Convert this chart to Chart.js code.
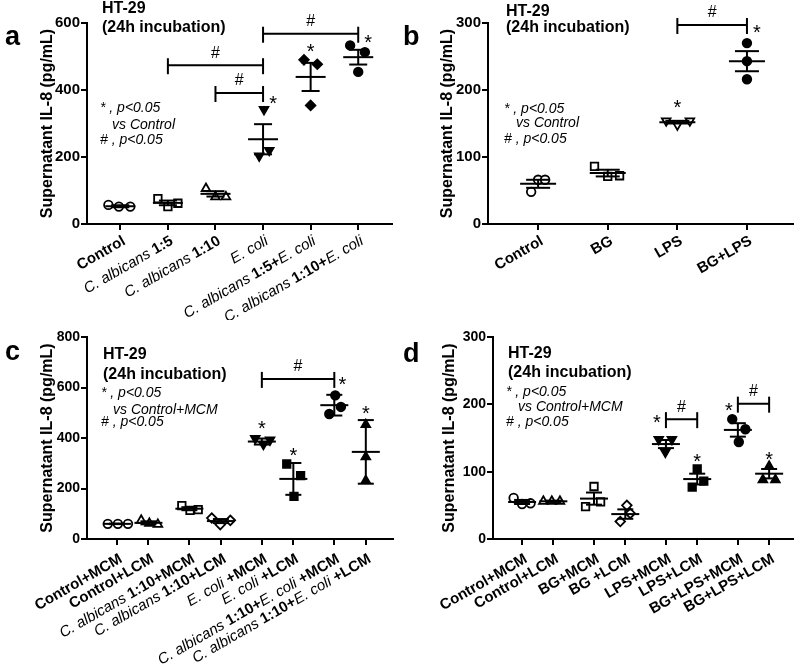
<!DOCTYPE html>
<html>
<head>
<meta charset="utf-8">
<script src="https://cdn.jsdelivr.net/npm/chart.js@4.4.1/dist/chart.umd.min.js"></script>
<style>
  body { margin: 0; background: #fff; width: 800px; height: 667px; position: relative; overflow: hidden; }
  .panel { position: absolute; }
</style>
</head>
<body>
<div class="panel" style="left:0;top:0"><canvas id="chartA" width="400" height="320"></canvas></div>
<div class="panel" style="left:400px;top:0"><canvas id="chartB" width="400" height="320"></canvas></div>
<div class="panel" style="left:0;top:320px"><canvas id="chartC" width="400" height="347"></canvas></div>
<div class="panel" style="left:400px;top:320px"><canvas id="chartD" width="400" height="347"></canvas></div>
<script>
// ---- panel a ----
var labelsA = [
  [["Control", "b"]],
  [["C. albicans ", "i"], ["1:5", "b"]],
  [["C. albicans ", "i"], ["1:10", "b"]],
  [["E. coli", "i"]],
  [["C. albicans ", "i"], ["1:5+", "b"], ["E. coli", "i"]],
  [["C. albicans ", "i"], ["1:10+", "b"], ["E. coli", "i"]]
];
var valuesA = [[57, 52, 52], [76, 52, 62], [106, 81, 81], [342, 220, 203], [490, 477, 354], [533, 513, 454]];
var spreadA = [[-0.25, -0.03, 0.21], [-0.21, 0, 0.21], [-0.2, 0, 0.22], [0.02, 0.13, -0.08], [-0.14, 0.14, 0], [-0.17, 0.14, 0]];
var meansA = [53, 63, 90, 253, 439, 498];
var errsA = [3, 7, 8, 45, 42, 22];
var bracketsA = [[2, 3, 391], [1, 3, 474], [3, 5, 568]];
var starsA = [[3, 374, 10], [4, 530, 0], [5, 558, 10]];

// ---- panel b ----
var labelsB = [[["Control", "b"]], [["BG", "b"]], [["LPS", "b"]], [["BG+LPS", "b"]]];
var valuesB = [[48, 66, 66], [86, 71, 72], [154, 148, 154], [270, 243, 216]];
var spreadB = [[-0.1, 0, 0.1], [-0.19, 0, 0.17], [-0.16, 0, 0.18], [0, 0, 0]];
var meansB = [60, 76, 152, 243];
var errsB = [6, 5, 2, 15];
var bracketsB = [[2, 3, 297]];
var starsB = [[2, 182, 0], [3, 294, 10]];

// ---- panel c ----
var labelsC = [
  [["Control+MCM", "b"]],
  [["Control+LCM", "b"]],
  [["C. albicans ", "i"], ["1:10+MCM", "b"]],
  [["C. albicans ", "i"], ["1:10+LCM", "b"]],
  [["E. coli", "i"], [" +MCM", "b"]],
  [["E. coli", "i"], [" +LCM", "b"]],
  [["C. albicans ", "i"], ["1:10+", "b"], ["E. coli", "i"], [" +MCM", "b"]],
  [["C. albicans ", "i"], ["1:10+", "b"], ["E. coli", "i"], [" +LCM", "b"]]
];
var valuesC = [[60, 60, 60], [74, 62, 58], [132, 113, 116], [83, 57, 74], [398, 375, 392], [297, 251, 169], [569, 523, 495], [453, 325, 231]];
var spreadC = [[-0.29, 0.03, 0.35], [-0.23, 0.03, 0.3], [-0.24, 0.02, 0.28], [-0.29, -0.02, 0.3], [-0.21, 0.05, 0.26], [-0.21, 0.23, 0.02], [0.03, 0.21, -0.16], [0, 0, 0]];
var meansC = [60, 64, 120, 71, 386, 238, 530, 345];
var errsC = [1, 6, 6, 8, 12, 63, 41, 126];
var bracketsC = [[4, 6, 634]];
var starsC = [[4, 459, 0], [5, 351, 0], [6, 631, 8], [7, 515, 0]];

// ---- panel d ----
var labelsD = [
  [["Control+MCM", "b"]], [["Control+LCM", "b"]], [["BG+MCM", "b"]], [["BG +LCM", "b"]],
  [["LPS+MCM", "b"]], [["LPS+LCM", "b"]], [["BG+LPS+MCM", "b"]], [["BG+LPS+LCM", "b"]]
];
var valuesD = [[61, 52, 53], [56, 56, 56], [78, 48, 55], [50, 26, 38], [148, 148, 129], [104, 86, 77], [178, 163, 144], [108, 88, 88]];
var spreadD = [[-0.27, 0, 0.27], [-0.32, -0.05, 0.21], [0, -0.27, 0.21], [0.05, -0.16, 0.16], [-0.23, 0.19, -0.02], [0, 0.21, -0.16], [-0.18, 0.24, 0.03], [0, -0.2, 0.2]];
var meansD = [55, 56, 60, 37, 141, 89, 162, 97];
var errsD = [3, 1, 9, 7, 6, 8, 10, 7];
var bracketsD = [[4, 5, 178], [6, 7, 201]];
var starsD = [[4, 180, -9], [5, 123, 0], [6, 198, -9], [7, 125, 0]];

// category positions on the x axis (pairs are grouped in c and d)
var posA = [0, 1, 2, 3, 4, 5];
var posB = [0, 1, 2, 3];
var posCD = [0, 1, 2.3, 3.3, 4.6, 5.6, 6.9, 7.9];

var FONT = "'Liberation Sans', Arial, Helvetica, sans-serif";
Chart.defaults.font.family = FONT;
Chart.defaults.color = '#000';

var markers = {
  openCircle:   { style: 'circle',   r: 4.3, fill: '#fff', rot: 0 },
  openSquare:   { style: 'rect',     r: 5.3, fill: '#fff', rot: 0 },
  openTriUp:    { style: 'triangle', r: 5,   fill: '#fff', rot: 0 },
  openTriDown:  { style: 'triangle', r: 5,   fill: '#fff', rot: 180 },
  openDiamond:  { style: 'rectRot',  r: 4.8, fill: '#fff', rot: 0 },
  fullCircle:   { style: 'circle',   r: 4.3, fill: '#000', rot: 0 },
  fullSquare:   { style: 'rect',     r: 5.3, fill: '#000', rot: 0 },
  fullTriUp:    { style: 'triangle', r: 5,   fill: '#000', rot: 0 },
  fullTriDown:  { style: 'triangle', r: 5,   fill: '#000', rot: 180 },
  fullDiamond:  { style: 'rectRot',  r: 4.8, fill: '#000', rot: 0 }
};

function fontFor(kind, size) {
  return (kind == "i" ? "italic " : "bold ") + size + "px " + FONT;
}

function line(ctx, x1, y1, x2, y2) {
  ctx.beginPath(); ctx.moveTo(x1, y1); ctx.lineTo(x2, y2); ctx.stroke();
}

function drawRichLabel(ctx, x, y, parts, size) {
  ctx.save();
  ctx.translate(x, y);
  ctx.rotate(-Math.PI / 6);
  ctx.textAlign = 'left';
  ctx.textBaseline = 'middle';
  var widths = parts.map(function (p) { ctx.font = fontFor(p[1], size); return ctx.measureText(p[0]).width; });
  var cx = -widths.reduce(function (a, b) { return a + b; }, 0);
  parts.forEach(function (p, k) {
    ctx.font = fontFor(p[1], size);
    ctx.fillText(p[0], cx, 0);
    cx += widths[k];
  });
  ctx.restore();
}

function makePanel(id, p) {
  var datasets = p.values.map(function (vals, i) {
    var m = markers[p.markers[i]];
    return {
      data: vals.map(function (v, j) { return { x: p.pos[i] + p.spread[i][j], y: v }; }),
      pointStyle: m.style,
      pointRadius: m.r,
      pointRotation: m.rot,
      pointBackgroundColor: m.fill,
      pointBorderColor: '#000',
      pointBorderWidth: 1.8,
      showLine: false,
      clip: false
    };
  });

  var overlay = {
    id: 'overlay' + id,
    afterDatasetsDraw: function (chart) {
      var ctx = chart.ctx, xs = chart.scales.x, ys = chart.scales.y;
      ctx.save();
      ctx.strokeStyle = '#000';
      ctx.fillStyle = '#000';
      ctx.lineWidth = 2;
      // mean and error bars
      p.means.forEach(function (m, i) {
        var cx = xs.getPixelForValue(p.pos[i]);
        var ym = ys.getPixelForValue(m);
        var yt = ys.getPixelForValue(m + p.errs[i]);
        var yb = ys.getPixelForValue(m - p.errs[i]);
        line(ctx, cx - p.meanHalf, ym, cx + p.meanHalf, ym);
        line(ctx, cx, yt, cx, yb);
        line(ctx, cx - p.capHalf, yt, cx + p.capHalf, yt);
        line(ctx, cx - p.capHalf, yb, cx + p.capHalf, yb);
      });
      // significance brackets
      ctx.font = "16px " + FONT;
      ctx.textAlign = 'center';
      ctx.textBaseline = 'middle';
      p.brackets.forEach(function (b) {
        var x1 = xs.getPixelForValue(p.pos[b[0]]);
        var x2 = xs.getPixelForValue(p.pos[b[1]]);
        var y = ys.getPixelForValue(b[2]);
        line(ctx, x1, y, x2, y);
        line(ctx, x1, y - 7, x1, y + 9);
        line(ctx, x2, y - 7, x2, y + 9);
        ctx.fillText('#', (x1 + x2) / 2, y - 12);
      });
      // stars
      ctx.font = "20px " + FONT;
      ctx.textBaseline = 'alphabetic';
      p.stars.forEach(function (s) {
        var x = xs.getPixelForValue(p.pos[s[0]]) + s[2];
        var y = ys.getPixelForValue(s[1]);
        ctx.fillText('*', x, y + 11.5);
      });
      ctx.restore();
    },
    afterDraw: function (chart) {
      var ctx = chart.ctx, xs = chart.scales.x;
      ctx.save();
      ctx.fillStyle = '#000';
      // x tick labels with mixed styles
      p.labels.forEach(function (parts, i) {
        var x = xs.getPixelForValue(p.pos[i]) + 4;
        drawRichLabel(ctx, x, chart.chartArea.bottom + p.labelDrop, parts, 15);
      });
      // panel letter
      ctx.textAlign = 'left';
      ctx.textBaseline = 'alphabetic';
      ctx.font = "bold 27px " + FONT;
      ctx.fillText(p.letter, p.letterPos[0], p.letterPos[1]);
      // title and note
      ctx.textBaseline = 'middle';
      ctx.font = "bold 16px " + FONT;
      ctx.fillText("HT-29", p.textX, p.textY[0]);
      ctx.fillText("(24h incubation)", p.textX, p.textY[1]);
      ctx.font = "italic 14px " + FONT;
      ctx.fillText("* , p<0.05", p.textX - 2, p.textY[2]);
      ctx.fillText("vs " + p.vsText, p.textX + 10, p.textY[3]);
      ctx.fillText("# , p<0.05", p.textX - 2, p.textY[4]);
      ctx.restore();
    }
  };

  return new Chart(document.getElementById(id), {
    type: 'scatter',
    data: { datasets: datasets },
    options: {
      responsive: false,
      animation: false,
      events: [],
      layout: { padding: { top: p.top, right: p.right, left: 0, bottom: 0 } },
      plugins: { legend: { display: false }, tooltip: { enabled: false } },
      scales: {
        x: {
          type: 'linear',
          min: p.xMin,
          max: p.xMax,
          afterBuildTicks: function (scale) {
            scale.ticks = p.pos.map(function (v) { return { value: v }; });
          },
          afterFit: function (scale) { scale.height = p.xHeight; },
          ticks: { display: false },
          grid: { drawOnChartArea: false, drawTicks: true, tickLength: 6, color: '#000', lineWidth: 2 },
          border: { display: true, color: '#000', width: 2 }
        },
        y: {
          min: 0,
          max: p.yMax,
          afterFit: function (scale) { scale.width = p.yWidth; },
          ticks: { stepSize: p.yStep, padding: 1, font: { size: p.yTickSize, weight: 'bold' } },
          grid: { drawOnChartArea: false, drawTicks: true, tickLength: 6, color: '#000', lineWidth: 2 },
          border: { display: true, color: '#000', width: 2 },
          title: {
            display: true,
            text: 'Supernatant IL-8 (pg/mL)',
            font: { size: 16, weight: 'bold' },
            padding: { top: p.titlePad, bottom: 0 }
          }
        }
      }
    },
    plugins: [overlay]
  });
}

makePanel('chartA', {
  labels: labelsA, values: valuesA, spread: spreadA, means: meansA, errs: errsA,
  brackets: bracketsA, stars: starsA, pos: posA,
  markers: ['openCircle', 'openSquare', 'openTriUp', 'fullTriDown', 'fullDiamond', 'fullCircle'],
  top: 23, right: 8, yWidth: 87, xHeight: 96, xMin: -0.7, xMax: 5.71, yMax: 600, yStep: 200, yTickSize: 15,
  titlePad: 38, meanHalf: 15, capHalf: 9, labelDrop: 16,
  letter: 'a', letterPos: [5, 45], textX: 102, textY: [9, 28, 108, 125, 140], vsText: 'Control'
});

makePanel('chartB', {
  labels: labelsB, values: valuesB, spread: spreadB, means: meansB, errs: errsB,
  brackets: bracketsB, stars: starsB, pos: posB,
  markers: ['openCircle', 'openSquare', 'openTriDown', 'fullCircle'],
  top: 23, right: 7, yWidth: 88, xHeight: 96, xMin: -0.72, xMax: 3.66, yMax: 300, yStep: 100, yTickSize: 15,
  titlePad: 38, meanHalf: 18, capHalf: 12, labelDrop: 16,
  letter: 'b', letterPos: [3, 45], textX: 106, textY: [12, 28, 109, 123, 139], vsText: 'Control'
});

makePanel('chartC', {
  labels: labelsC, values: valuesC, spread: spreadC, means: meansC, errs: errsC,
  brackets: bracketsC, stars: starsC, pos: posCD,
  markers: ['openCircle', 'openTriUp', 'openSquare', 'openDiamond', 'fullTriDown', 'fullSquare', 'fullCircle', 'fullTriUp'],
  top: 17, right: 7, yWidth: 87, xHeight: 128, xMin: -0.95, xMax: 8.76, yMax: 800, yStep: 200, yTickSize: 14,
  titlePad: 38, meanHalf: 14, capHalf: 8, labelDrop: 19,
  letter: 'c', letterPos: [5, 40], textX: 103, textY: [35, 55, 73, 90, 102], vsText: 'Control+MCM'
});

makePanel('chartD', {
  labels: labelsD, values: valuesD, spread: spreadD, means: meansD, errs: errsD,
  brackets: bracketsD, stars: starsD, pos: posCD,
  markers: ['openCircle', 'openTriUp', 'openSquare', 'openDiamond', 'fullTriDown', 'fullSquare', 'fullCircle', 'fullTriUp'],
  top: 17, right: 7, yWidth: 93, xHeight: 128, xMin: -0.93, xMax: 8.66, yMax: 300, yStep: 100, yTickSize: 14,
  titlePad: 40, meanHalf: 14, capHalf: 8, labelDrop: 19,
  letter: 'd', letterPos: [3, 42], textX: 108, textY: [34, 53, 72, 87, 102], vsText: 'Control+MCM'
});
</script>
</body>
</html>
